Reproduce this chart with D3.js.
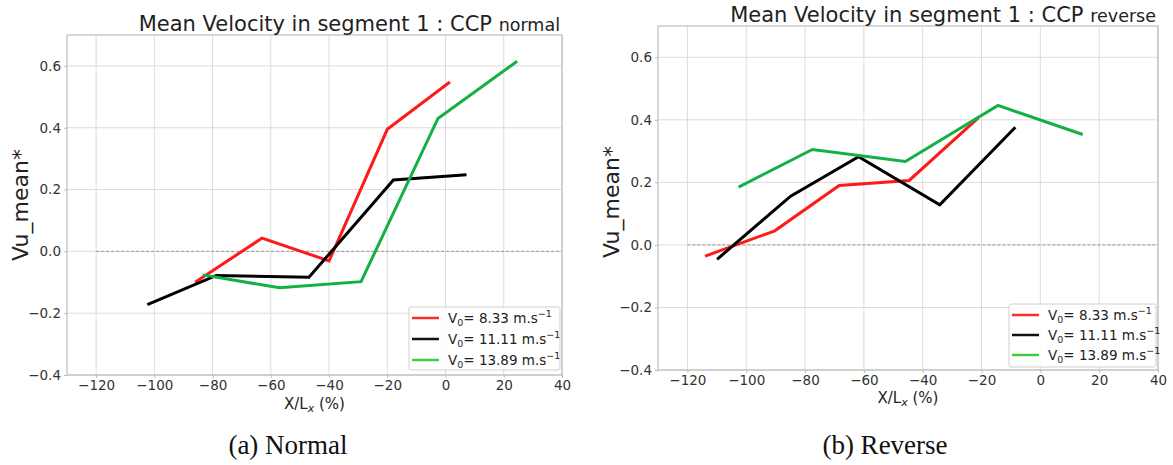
<!DOCTYPE html>
<html><head><meta charset="utf-8">
<script src="https://cdn.jsdelivr.net/npm/d3@7"></script>
<style>
body{margin:0;background:#fff;}
</style></head>
<body><svg id="c" width="1173" height="465"></svg>
<script>
// ---- data ----
const xTicks = [-120,-100,-80,-60,-40,-20,0,20,40];
const yTicks = [-0.4,-0.2,0.0,0.2,0.4,0.6];
const speeds = ["8.33","11.11","13.89"];
const lineColors = ["#ff1a1a","#000000","#12b045"];
const legendColors = ["#ff2a2a","#111111","#3ccc3c"];

// Normal
const normalRedX   = [-86, -63, -40, -20, 1.5];
const normalRedY   = [-0.10, 0.043, -0.031, 0.395, 0.548];
const normalBlackX = [-102.4, -78.7, -46.9, -17.9, 7.2];
const normalBlackY = [-0.172, -0.078, -0.084, 0.231, 0.248];
const normalGreenX = [-83.4, -57.0, -29.0, -2.6, 24.6];
const normalGreenY = [-0.076, -0.118, -0.098, 0.430, 0.615];

// Reverse
const reverseRedX   = [-114.0, -90.3, -68.4, -44.6, -21.1];
const reverseRedY   = [-0.036, 0.045, 0.190, 0.206, 0.406];
const reverseBlackX = [-109.9, -84.9, -61.8, -34.2, -8.5];
const reverseBlackY = [-0.046, 0.156, 0.282, 0.128, 0.376];
const reverseGreenX = [-102.6, -77.5, -45.9, -14.4, 14.4];
const reverseGreenY = [0.185, 0.305, 0.267, 0.446, 0.353];

const SANS = '"DejaVu Sans", sans-serif';
const svg = d3.select("#c");

function drawPanel(p){
  const x = d3.scaleLinear().domain([-130,40]).range([p.left,p.right]);
  const y = d3.scaleLinear().domain([-0.4,0.7]).range([p.bottom,p.top]);
  const g = svg.append("g").style("font-family",SANS);
  // grid
  g.selectAll(".gx").data(xTicks).enter().append("line")
    .attr("x1",d=>x(d)).attr("x2",d=>x(d)).attr("y1",p.top).attr("y2",p.bottom)
    .attr("stroke","#dcdcdc").attr("stroke-width",1);
  g.selectAll(".gy").data(yTicks).enter().append("line")
    .attr("x1",p.left).attr("x2",p.right).attr("y1",d=>y(d)).attr("y2",d=>y(d))
    .attr("stroke","#dcdcdc").attr("stroke-width",1);
  // zero dashed
  g.append("line").attr("x1",x(-120)).attr("x2",p.right).attr("y1",y(0)).attr("y2",y(0))
    .attr("stroke","#999").attr("stroke-width",1).attr("stroke-dasharray","3,2");
  // axes
  const fmtY = d3.format(".1f");
  const ax = g.append("g").attr("transform",`translate(0,${p.bottom})`)
    .call(d3.axisBottom(x).tickValues(xTicks).tickSize(3).tickPadding(2).tickFormat(d3.format("d")));
  const ay = g.append("g").attr("transform",`translate(${p.left},0)`)
    .call(d3.axisLeft(y).tickValues(yTicks).tickSize(3).tickPadding(3).tickFormat(fmtY));
  [ax,ay].forEach(a=>{
    a.select(".domain").remove();
    a.selectAll("line").attr("stroke","#bbb");
    a.selectAll("text").attr("font-size",13.5).attr("fill","#333").style("font-family",SANS);
  });
  // frame
  g.append("rect").attr("x",p.left).attr("y",p.top).attr("width",p.right-p.left).attr("height",p.bottom-p.top)
    .attr("fill","none").attr("stroke","#bdbdbd").attr("stroke-width",1.2);
  // lines
  const line = d3.line().x(d=>x(d[0])).y(d=>y(d[1]));
  p.series.forEach((s,i)=>{
    const pts = s.xs.map((v,j)=>[v,s.ys[j]]);
    g.append("path").attr("d",line(pts)).attr("fill","none")
      .attr("stroke",lineColors[i]).attr("stroke-width",3).attr("stroke-linejoin","miter");
  });
  // title
  const t = g.append("text").attr("x",p.right-2).attr("y",p.titleY).attr("text-anchor","end")
    .attr("font-size",21).attr("fill","#222");
  t.append("tspan").text("Mean Velocity in segment 1 : CCP ");
  t.append("tspan").attr("font-size",17.5).text(p.suffix);
  // y label
  g.append("text").attr("transform",`translate(${p.ylabX},${p.ylabY}) rotate(-90)`)
    .attr("text-anchor","middle").attr("font-size",22).attr("fill","#222").text("Vu_mean*");
  // x label
  const xl = g.append("text").attr("x",(p.left+p.right)/2).attr("y",p.xlabY).attr("text-anchor","middle")
    .attr("font-size",15).attr("fill","#222");
  xl.append("tspan").text("X/L");
  xl.append("tspan").attr("font-size",11).attr("font-style","italic").attr("dy",3).text("x");
  xl.append("tspan").attr("dy",-3).text(" (%)");
  // legend
  const lg = g.append("g");
  lg.append("rect").attr("x",p.legX).attr("y",p.legY).attr("width",p.right-2-p.legX).attr("height",p.legH)
    .attr("fill","#fff").attr("fill-opacity",0.85).attr("stroke","#d0d0d0").attr("rx",2);
  speeds.forEach((sp,i)=>{
    const yy = p.legY+11+i*p.legStep;
    lg.append("line").attr("x1",p.legX+3).attr("x2",p.legX+30).attr("y1",yy).attr("y2",yy)
      .attr("stroke",legendColors[i]).attr("stroke-width",2.5);
    const tx = lg.append("text").attr("x",p.legX+39).attr("y",yy+5).attr("font-size",13.5).attr("fill","#222");
    tx.append("tspan").text("V");
    tx.append("tspan").attr("font-size",9.5).attr("dy",3).text("0");
    tx.append("tspan").attr("dy",-3).text("= "+sp+" m.s");
    tx.append("tspan").attr("font-size",9.5).attr("dy",-6).text("\u22121");
  });
  // caption
  svg.append("text").attr("x",p.capX).attr("y",454).attr("text-anchor","middle")
    .style("font-family",'"Liberation Serif", serif').attr("font-size",27).attr("fill","#111").text(p.caption);
}

drawPanel({left:67,right:562,top:35,bottom:375,titleY:31,suffix:"normal",ylabX:28,ylabY:205,xlabY:409,
  legX:409,legY:307,legH:63,legStep:21,capX:288,caption:"(a) Normal",
  series:[{xs:normalRedX,ys:normalRedY},{xs:normalBlackX,ys:normalBlackY},{xs:normalGreenX,ys:normalGreenY}]});
drawPanel({left:658,right:1158,top:26,bottom:370,titleY:22,suffix:"reverse",ylabX:619,ylabY:202,xlabY:403,
  legX:1009,legY:304,legH:63,legStep:20,capX:885,caption:"(b) Reverse",
  series:[{xs:reverseRedX,ys:reverseRedY},{xs:reverseBlackX,ys:reverseBlackY},{xs:reverseGreenX,ys:reverseGreenY}]});
</script></body></html>
